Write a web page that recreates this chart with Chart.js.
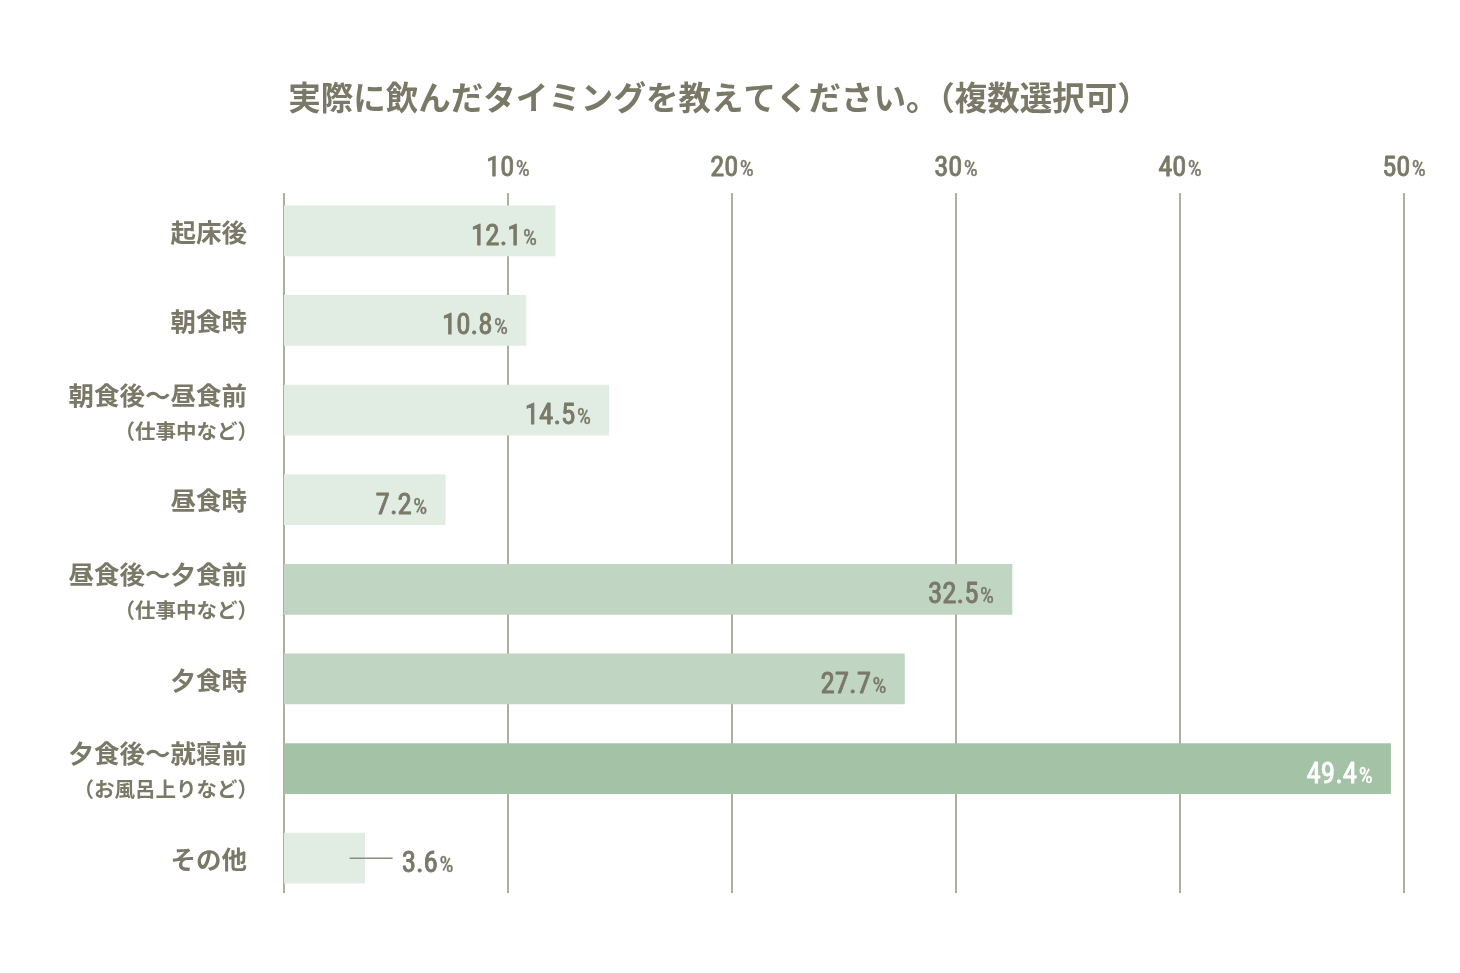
<!DOCTYPE html>
<html lang="ja">
<head>
<meta charset="utf-8">
<script src="https://cdn.jsdelivr.net/npm/chart.js@4"></script>
<style>
    body { margin: 0; background: #fff; }
    #wrap { width: 1460px; height: 973px; }
</style>
</head>
<body>
<div id="wrap"><canvas id="graph" width="1460" height="973"></canvas></div>
<script>
const TITLE = '実際に飲んだタイミングを教えてください。（複数選択可）';
const CATEGORIES = ['起床後', '朝食時', '朝食後～昼食前', '昼食時', '昼食後～夕食前', '夕食時', '夕食後～就寝前', 'その他'];
const SUB_LABELS = ['', '', '（仕事中など）', '', '（仕事中など）', '', '（お風呂上りなど）', ''];
const VALUES = [12.1, 10.8, 14.5, 7.2, 32.5, 27.7, 49.4, 3.6];
const TICKS = [10, 20, 30, 40, 50];

const TEXT = '#7a7968';
const GRID = '#aeae9f';
const LIGHT = '#e1ece3';
const MID = '#c0d6c2';
const DARK = '#a3c2a6';
const JP = '"Noto Sans CJK JP", "Noto Sans", sans-serif';
const NUM = '"Liberation Sans Narrow", "Roboto Condensed", Roboto, sans-serif';

function barColor(v) {
    if (v >= 40) return DARK;
    if (v >= 20) return MID;
    return LIGHT;
}

// regular weight text thickened a little with a thin stroke
function heavyText(ctx, s, x, y, w) {
    ctx.fillText(s, x, y);
    ctx.lineWidth = w;
    ctx.strokeText(s, x, y);
}

// number big, "%" small; x is the anchor for the given align
function drawPercent(ctx, num, x, y, align, bigSize, smallSize, color) {
    ctx.save();
    ctx.fillStyle = color;
    ctx.strokeStyle = color;
    ctx.lineJoin = 'round';
    ctx.textBaseline = 'alphabetic';
    ctx.textAlign = 'left';
    ctx.font = `${bigSize}px ${NUM}`;
    const w1 = ctx.measureText(num).width;
    ctx.font = `${smallSize}px ${NUM}`;
    const w2 = ctx.measureText('%').width;
    const gap = 1.5;
    let start = x;
    if (align === 'right') start = x - w1 - w2 - gap;
    if (align === 'center') start = x - (w1 + w2 + gap) / 2;
    ctx.font = `${bigSize}px ${NUM}`;
    heavyText(ctx, num, start, y, 0.8);
    ctx.font = `${smallSize}px ${NUM}`;
    heavyText(ctx, '%', start + w1 + gap, y, 0.4);
    ctx.restore();
}

const decorations = {
    id: 'decorations',
    beforeDatasetsDraw(chart) {
        const ctx = chart.ctx;
        const xs = chart.scales.x;
        const top = chart.chartArea.top + 7;
        const bottom = chart.chartArea.bottom - 10;
        ctx.save();
        ctx.strokeStyle = GRID;
        ctx.lineWidth = 2;
        [0].concat(TICKS).forEach(t => {
            const px = Math.round(xs.getPixelForValue(t));
            ctx.beginPath();
            ctx.moveTo(px, top);
            ctx.lineTo(px, bottom);
            ctx.stroke();
        });
        ctx.restore();
    },
    afterDatasetsDraw(chart) {
        const ctx = chart.ctx;
        const xs = chart.scales.x;
        const ys = chart.scales.y;

        // title
        ctx.save();
        ctx.fillStyle = TEXT;
        ctx.font = `bold 32.5px ${JP}`;
        ctx.textAlign = 'center';
        ctx.textBaseline = 'middle';
        ctx.fillText(TITLE, 719, 98);
        ctx.restore();

        // top ticks
        TICKS.forEach(t => {
            drawPercent(ctx, String(t), xs.getPixelForValue(t), 176, 'center', 28.5, 22, TEXT);
        });

        // category labels
        const labelX = chart.chartArea.left - 37;
        CATEGORIES.forEach((c, i) => {
            const cy = ys.getPixelForValue(i);
            ctx.save();
            ctx.fillStyle = TEXT;
            ctx.textAlign = 'right';
            ctx.textBaseline = 'middle';
            ctx.font = `bold 25.5px ${JP}`;
            if (SUB_LABELS[i]) {
                ctx.fillText(c, labelX, cy - 15);
                ctx.font = `bold 20.5px ${JP}`;
                ctx.fillText(SUB_LABELS[i], labelX + 11, cy + 21);
            } else {
                ctx.fillText(c, labelX, cy + 1);
            }
            ctx.restore();
        });

        // value labels
        const meta = chart.getDatasetMeta(0);
        meta.data.forEach((bar, i) => {
            const v = VALUES[i];
            const y = bar.y + 14;
            const end = bar.x;
            if (end - xs.getPixelForValue(0) < 120) {
                ctx.save();
                ctx.strokeStyle = '#8c8b7c';
                ctx.lineWidth = 1.5;
                ctx.beginPath();
                ctx.moveTo(end - 15, bar.y);
                ctx.lineTo(end + 28, bar.y);
                ctx.stroke();
                ctx.restore();
                drawPercent(ctx, v.toFixed(1), end + 37, y, 'left', 29, 22, TEXT);
            } else {
                const color = v >= 40 ? '#ffffff' : TEXT;
                drawPercent(ctx, v.toFixed(1), end - 18, y, 'right', 29, 22, color);
            }
        });
    }
};

const ctx = document.getElementById('graph').getContext('2d');
new Chart(ctx, {
    type: 'bar',
    data: {
        labels: CATEGORIES,
        datasets: [{
            data: VALUES,
            backgroundColor: VALUES.map(barColor),
            barThickness: 50,
            borderWidth: 0
        }]
    },
    options: {
        indexAxis: 'y',
        responsive: false,
        animation: false,
        layout: {
            padding: { left: 284, right: 56, top: 186, bottom: 70 }
        },
        plugins: {
            legend: { display: false },
            tooltip: { enabled: false }
        },
        scales: {
            x: { display: false, min: 0, max: 50 },
            y: { display: false }
        }
    },
    plugins: [decorations]
});
</script>
</body>
</html>
